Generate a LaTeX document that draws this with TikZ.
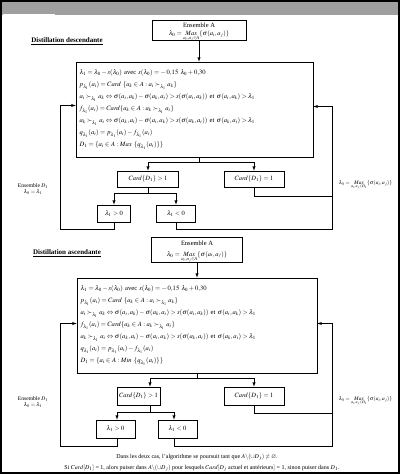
\documentclass[tikz,border=0pt]{standalone}
\usepackage{amsmath}
\usepackage{amssymb}
\usepackage{mathptmx}
\usepackage{graphicx}
\usepackage{fontspec}
\setmainfont{Liberation Serif}
\usepackage{tikz}
\usetikzlibrary{arrows, positioning, calc}

\tikzset{
  cadre/.style={draw, rectangle, line width=0.6pt, inner sep=1pt, align=center, font=\fontsize{6.5}{8.5}\selectfont},
  regle/.style={cadre, align=left, inner sep=3pt, font=\fontsize{6.6}{12}\selectfont},
  fl/.style={-latex, line width=0.5pt},
  ligne/.style={line width=0.5pt},
  titre/.style={font=\fontsize{7}{8}\selectfont\bfseries},
  note/.style={font=\fontsize{5.6}{6.5}\selectfont, align=center},
  pied/.style={font=\fontsize{6}{7}\selectfont},
  petit/.style={font=\fontsize{5.4}{6}\selectfont, inner sep=0pt}
}

\newcommand{\maxA}{$\lambda_0 = \smash{\mathop{Max}\limits_{a_i,a_j\in A}}\{\sigma(a_i,a_j)\}$}
\newcommand{\maxD}{$\lambda_0 = \mathop{Max}\limits_{a_i,a_j\in D_1}\{\sigma(a_i,a_j)\}$}

\begin{document}
\begin{tikzpicture}[x=1pt, y=-1pt]
  \useasboundingbox (0,0) rectangle (400,474);
  \fill[gray!75] (1,1) rectangle (399,15);
  \draw[white, line width=1pt] (3,14) -- (55,14);
  \draw[line width=1.2pt] (1,1) rectangle (399,473);

  % distillation descendante
  \node[titre] (titre1) at (67,41) {\underline{Distillation descendante}};
  \node[cadre, minimum width=94, minimum height=20] (ensA1) at (199,30) {Ensemble A\\ \maxA};
  \node[regle, minimum width=237, minimum height=95, text width=230] (regle1) at (194.5,109.5) {%
    $\lambda_1 = \lambda_0 - s(\lambda_0)$ avec $s(\lambda_0) = -\,0{,}15\ \lambda_0 + 0{,}30$\\
    $p_{\lambda_1}(a_i) = Card\ \{a_k \in A : a_i \succ_{\lambda_1} a_k\}$\\
    $a_i \succ_{\lambda_1} a_k \Leftrightarrow \sigma(a_i,a_k) - \sigma(a_k,a_i) > s(\sigma(a_i,a_k))$ et $\sigma(a_i,a_k) > \lambda_1$\\
    $f_{\lambda_1}(a_i) = Card\{a_k \in A : a_k \succ_{\lambda_1} a_i\}$\\
    $a_k \succ_{\lambda_1} a_i \Leftrightarrow \sigma(a_k,a_i) - \sigma(a_i,a_k) > s(\sigma(a_k,a_i))$ et $\sigma(a_k,a_i) > \lambda_1$\\
    $q_{\lambda_1}(a_i) = p_{\lambda_1}(a_i) - f_{\lambda_1}(a_i)$\\
    $D_1 = \{a_i \in A : Max\ \{q_{\lambda_1}(a_i)\}\}$};
  \node[cadre, minimum width=61, minimum height=16] (cardA1) at (148,179) {$Card\{D_1\}>1$};
  \node[cadre, minimum width=60, minimum height=16] (cardB1) at (254,179) {$Card\{D_1\}=1$};
  \node[cadre, minimum width=33, minimum height=17] (pos1) at (114,213.5) {$\lambda_1>0$};
  \node[cadre, minimum width=39, minimum height=17] (neg1) at (176,213.5) {$\lambda_1<0$};
  \node[note] (ensD1) at (33,189) {Ensemble $D_1$\\ $\lambda_0=\lambda_1$};
  \node[petit] (lmax1) at (365.5,185) {\maxD};
  \coordinate (g1) at (60,229);
  \coordinate (d1) at (332,229);
  \coordinate (e1) at (332,196);

  \draw[fl] (ensA1.south) -- (ensA1.south |- regle1.north);
  \draw[ligne] (ensA1 |- regle1.south) -- ++(0,5) coordinate (b1);
  \draw[fl] (b1) -| (cardA1);
  \draw[fl] (b1) -| (cardB1);
  \draw[ligne] (cardA1.south) -- ++(0,6) coordinate (c1);
  \draw[fl] (c1) -| (pos1);
  \draw[fl] (c1) -| (neg1);
  \draw[fl] (pos1.south) |- (g1) |- ([yshift=4pt]regle1.west);
  \draw[fl] (neg1.south) |- (d1) |- ([yshift=3pt]regle1.east);
  \draw[ligne] (cardB1.south) |- (e1);

  % distillation ascendante
  \node[titre] (titre2) at (67,253) {\underline{Distillation ascendante}};
  \node[cadre, minimum width=91, minimum height=25] (ensA2) at (197,249.5) {Ensemble A\\[2pt] \maxA};
  \node[regle, minimum width=240, minimum height=95, text width=233] (regle2) at (197,325.5) {%
    $\lambda_1 = \lambda_0 - s(\lambda_0)$ avec $s(\lambda_0) = -\,0{,}15\ \lambda_0 + 0{,}30$\\
    $p_{\lambda_1}(a_i) = Card\ \{a_k \in A : a_i \succ_{\lambda_1} a_k\}$\\
    $a_i \succ_{\lambda_1} a_k \Leftrightarrow \sigma(a_i,a_k) - \sigma(a_k,a_i) > s(\sigma(a_i,a_k))$ et $\sigma(a_i,a_k) > \lambda_1$\\
    $f_{\lambda_1}(a_i) = Card\{a_k \in A : a_k \succ_{\lambda_1} a_i\}$\\
    $a_k \succ_{\lambda_1} a_i \Leftrightarrow \sigma(a_k,a_i) - \sigma(a_i,a_k) > s(\sigma(a_k,a_i))$ et $\sigma(a_k,a_i) > \lambda_1$\\
    $q_{\lambda_1}(a_i) = p_{\lambda_1}(a_i) - f_{\lambda_1}(a_i)$\\
    $D_1 = \{a_i \in A : Min\ \{q_{\lambda_1}(a_i)\}\}$};
  \node[cadre, minimum width=43, minimum height=18] (cardA2) at (138.5,396) {$Card\{D_1\}>1$};
  \node[cadre, minimum width=60, minimum height=18] (cardB2) at (254,396) {$Card\{D_1\}=1$};
  \node[cadre, minimum width=39, minimum height=18] (pos2) at (115.5,429) {$\lambda_1>0$};
  \node[cadre, minimum width=39, minimum height=18] (neg2) at (177.5,429) {$\lambda_1<0$};
  \node[note] (ensD2) at (33,402) {Ensemble $D_1$\\ $\lambda_0=\lambda_1$};
  \node[petit] (lmax2) at (365.5,401) {\maxD};
  \coordinate (g2) at (60,446);
  \coordinate (d2) at (332,446);
  \coordinate (e2) at (332,413);

  \draw[fl] (ensA2.south) -- (ensA2.south |- regle2.north);
  \draw[ligne] (ensA2 |- regle2.south) -- ++(0,5) coordinate (b2);
  \draw[fl] (b2) -| ([xshift=11.5pt]cardA2.north);
  \draw[fl] (b2) -| (cardB2);
  \draw[ligne] ([xshift=11.5pt]cardA2.south) -- ++(0,7) coordinate (c2);
  \draw[fl] (c2) -| ([xshift=1.5pt]pos2.north);
  \draw[fl] (c2) -| ([xshift=-3.5pt]neg2.north);
  \draw[fl] ([xshift=1.5pt]pos2.south) |- (g2) |- ([yshift=2pt]regle2.west);
  \draw[fl] ([xshift=-3.5pt]neg2.south) |- (d2) |- ([yshift=2pt]regle2.east);
  \draw[ligne] (cardB2.south) |- (e2);

  \node[pied] (fin1) at (197,457) {Dans les deux cas, l'algorithme se poursuit tant que $A\backslash(\cup D_j) \neq \varnothing$.};
  \node[pied] (fin2) at (202,468) {Si $Card[D_1]$ = 1, alors puiser dans $A\backslash(\cup D_j)$ pour lesquels $Card[D_j$ actuel et antérieurs$]$ = 1, sinon puiser dans $D_1$.};
\end{tikzpicture}
\end{document}
